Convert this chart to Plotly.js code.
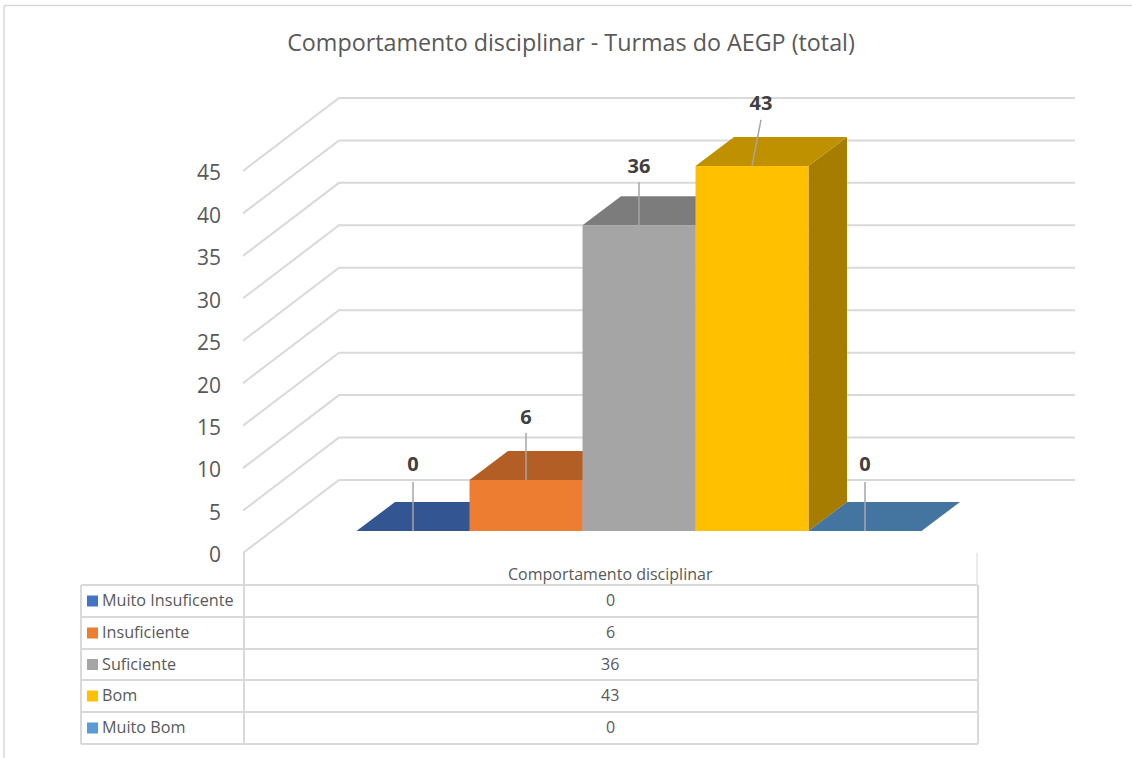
<!DOCTYPE html>
<html>
<head>
<meta charset="utf-8">
<script src="https://cdn.plot.ly/plotly-3.0.1.min.js"></script>
<style>html,body{margin:0;padding:0;background:#fff;overflow:hidden}</style>
</head>
<body>
<div id="chart" style="width:1132px;height:758px"></div>
<script>
const chartTitle = "Comportamento disciplinar - Turmas do AEGP (total)";
const groupLabel = "Comportamento disciplinar";
const categories = ["Muito Insuficente", "Insuficiente", "Suficiente", "Bom", "Muito Bom"];
const values = [0, 6, 36, 43, 0];
const colors = ["#4472C4", "#ED7D31", "#A5A5A5", "#FFC000", "#5B9BD5"];
const tickValues = [0, 5, 10, 15, 20, 25, 30, 35, 40, 45];

// page geometry (pixels)
const W = 1132, H = 758;
const FONT = '"Open Sans", sans-serif';
const unitPx = 8.49, slotPx = 113, slotOriginPx = 356.5, zeroPx = 553;
const wallLeftPx = 243, wallEndPx = 1075, wallDxPx = 96, wallDyPx = 73;
const floorPx = 531, depthDxPx = 38.5, depthDyPx = 29;
const leaderPx = [49, 47, 43, 46, 49], leaderLeanPx = [0, 0, 0, 9, 0], labelGapPx = [16.5, 14.5, 14.5, 14.5, 16.5];
const rowTopsPx = [585, 617, 649, 680, 712, 744];
const tableLeft = 81, tableCol = 244, tableRight = 978;

const pxX = p => (p - slotOriginPx) / slotPx;
const unitsY = p => p / unitPx;
const floorV = unitsY(zeroPx - floorPx);
const dDx = depthDxPx / slotPx, dDy = unitsY(depthDyPx);

function shade(hex, f) {
  const n = parseInt(hex.slice(1), 16);
  return "rgb(" + [(n >> 16) & 255, (n >> 8) & 255, n & 255].map(c => Math.round(c * f)).join(",") + ")";
}
function poly(x, y, color) {
  return {type: "scatter", mode: "lines", x: x, y: y, fill: "toself", fillcolor: color,
          line: {width: 0, color: color}, hoverinfo: "skip", cliponaxis: false};
}
function lineTrace(x, y, color, width) {
  return {type: "scatter", mode: "lines", x: x, y: y, line: {color: color, width: width},
          hoverinfo: "skip", cliponaxis: false};
}

const traces = [];
// walls / gridlines
tickValues.forEach(v => {
  traces.push(lineTrace(
    [pxX(wallLeftPx), pxX(wallLeftPx + wallDxPx), pxX(wallEndPx)],
    [v, v + unitsY(wallDyPx), v + unitsY(wallDyPx)], "#D9D9D9", 2));
});
// bars: side, top, front – painted left to right so each hides the previous one's side
values.forEach((v, i) => {
  const x0 = i, x1 = i + 1, y0 = floorV, y1 = floorV + v;
  if (v > 0) traces.push(poly([x1, x1 + dDx, x1 + dDx, x1, x1], [y0, y0 + dDy, y1 + dDy, y1, y0], shade(colors[i], 0.65)));
  traces.push(poly([x0, x1, x1 + dDx, x0 + dDx, x0], [y1, y1, y1 + dDy, y1 + dDy, y1], shade(colors[i], 0.75)));
  if (v > 0) traces.push(poly([x0, x1, x1, x0, x0], [y0, y0, y1, y1, y0], colors[i]));
});
// leader lines and value labels
values.forEach((v, i) => {
  const cx = i + 0.5, yb = floorV + v, yt = yb + unitsY(leaderPx[i]), xt = cx + leaderLeanPx[i] / slotPx;
  traces.push(lineTrace([cx, xt], [yb, yt], "#A6A6A6", 1.5));
});
traces.push({
  type: "scatter", mode: "text", hoverinfo: "skip", cliponaxis: false,
  x: values.map((v, i) => i + 0.5 + leaderLeanPx[i] / slotPx),
  y: values.map((v, i) => floorV + v + unitsY(leaderPx[i] + labelGapPx[i])),
  text: values.map(String), textposition: "middle center",
  textfont: {family: FONT, size: 20, color: "#404040", weight: 700}
});

// table
const rx = p => p / W, ry = p => 1 - p / H;
const shapes = [];
function hv(x0, y0, x1, y1, c, w) {
  shapes.push({type: "line", xref: "paper", yref: "paper", x0: rx(x0), x1: rx(x1), y0: ry(y0), y1: ry(y1),
               line: {color: c, width: w}});
}
hv(4, 5.5, W, 5.5, "#D9D9D9", 1.5);
hv(4, 5.5, 4, H, "#D9D9D9", 1.5);
rowTopsPx.forEach(y => hv(tableLeft, y, tableRight, y, "#D9D9D9", 2));
hv(tableLeft, rowTopsPx[0], tableLeft, rowTopsPx[5], "#D9D9D9", 2);
hv(tableCol, zeroPx, tableCol, rowTopsPx[5], "#D9D9D9", 2);
hv(tableRight - 1, zeroPx, tableRight - 1, rowTopsPx[0], "#E6E6E6", 1.5);
hv(tableRight, rowTopsPx[0], tableRight, rowTopsPx[5], "#D9D9D9", 2);

const annotations = [];
function note(text, xp, yp, anchor, size) {
  annotations.push({text: text, xref: "paper", yref: "paper", x: rx(xp), y: ry(yp), xanchor: anchor, yanchor: "middle",
                    showarrow: false, font: {family: FONT, size: size, color: "#595959"}});
}
note(groupLabel, 610, 574, "center", 16);
categories.forEach((c, i) => {
  const mid = (rowTopsPx[i] + rowTopsPx[i + 1]) / 2;
  shapes.push({type: "rect", xref: "paper", yref: "paper", x0: rx(87), x1: rx(98), y0: ry(mid - 5.5), y1: ry(mid + 5.5),
               fillcolor: colors[i], line: {width: 0}});
  note(c, 100, mid - 1, "left", 16.2);
  note(String(values[i]), 610, mid - 1, "center", 16);
});

const layout = {
  width: W, height: H, margin: {l: 0, r: 0, t: 0, b: 0, pad: 0},
  paper_bgcolor: "#fff", plot_bgcolor: "rgba(0,0,0,0)", showlegend: false, hovermode: false,
  title: {text: chartTitle, x: 571 / W, xanchor: "center", xref: "paper", y: 1 - 43 / H, yanchor: "middle",
          font: {family: FONT, size: 23.3, color: "#595959"}},
  xaxis: {domain: [0, 1], range: [pxX(0), pxX(W)], visible: false, fixedrange: true},
  yaxis: {domain: [0, 1], range: [unitsY(zeroPx - H), unitsY(zeroPx)], anchor: "free", position: wallLeftPx / W,
          tickmode: "array", tickvals: tickValues, ticktext: tickValues.map(String),
          showgrid: false, zeroline: false, showline: false, ticks: "", ticklabelstandoff: 22, ticklabelshift: 2, fixedrange: true,
          tickfont: {family: FONT, size: 21, color: "#595959"}},
  shapes: shapes, annotations: annotations
};
Plotly.newPlot("chart", traces, layout, {displayModeBar: false, staticPlot: true});
</script>
</body>
</html>
